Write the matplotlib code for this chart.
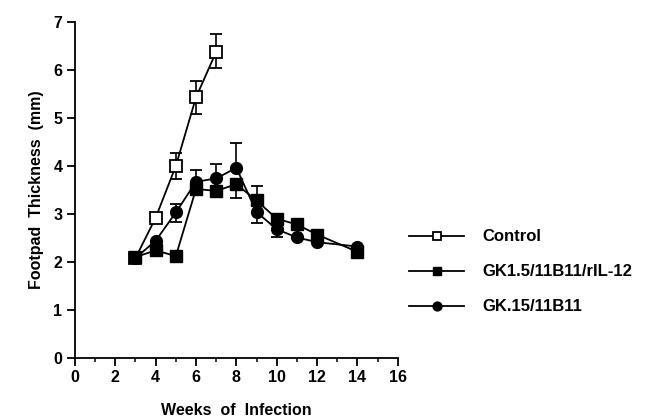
import numpy as np
import matplotlib
matplotlib.use("Agg")
import matplotlib.pyplot as plt

plt.rcParams['font.family'] = ['Liberation Sans', 'DejaVu Sans']
plt.rcParams['font.weight'] = 'bold'

# данные
weeks_ctrl = [3, 4, 5, 6, 7]
ctrl = [2.08, 2.92, 4.0, 5.43, 6.38]
ctrl_lo = [0, 0, 0.27, 0.35, 0.34]
ctrl_hi = [0, 0, 0.27, 0.34, 0.38]

weeks = [3, 4, 5, 6, 7, 8, 9, 10, 11, 12, 14]
gk_il12 = [2.1, 2.24, 2.12, 3.52, 3.48, 3.62, 3.28, 2.9, 2.78, 2.57, 2.21]
gk_il12_lo = [0, 0, 0, 0, 0, 0.28, 0, 0, 0, 0, 0]
gk_il12_hi = [0, 0, 0, 0, 0, 0, 0.3, 0, 0, 0, 0]

gk = [2.08, 2.44, 3.03, 3.67, 3.74, 3.96, 3.04, 2.68, 2.51, 2.41, 2.32]
gk_lo = [0, 0, 0.19, 0, 0, 0, 0.22, 0.17, 0, 0, 0]
gk_hi = [0, 0, 0.18, 0.25, 0.3, 0.52, 0, 0, 0, 0, 0]

labels = ['Control', 'GK1.5/11B11/rIL-12', 'GK.15/11B11']

fig = plt.figure(figsize=(6.52, 4.17), dpi=100)
ax = fig.add_axes([0.115, 0.142, 0.495, 0.805])

eb = dict(color='black', lw=1.3, capsize=4, capthick=1.3, elinewidth=1.2, zorder=3)
ax.errorbar(weeks_ctrl, ctrl, yerr=[ctrl_lo, ctrl_hi], marker='s', ms=8.5,
            mfc='white', mec='black', mew=1.3, label=labels[0], **eb)
ax.errorbar(weeks, gk_il12, yerr=[gk_il12_lo, gk_il12_hi], marker='s', ms=8.5,
            mfc='black', mec='black', label=labels[1], **eb)
ax.errorbar(weeks, gk, yerr=[gk_lo, gk_hi], marker='o', ms=8.5,
            mfc='black', mec='black', label=labels[2], **eb)

ax.set_xlim(0, 16)
ax.set_ylim(0, 7)
ax.set_xticks(np.arange(0, 17, 2))
ax.set_xticks(np.arange(0, 17, 1), minor=True)
ax.set_yticks(np.arange(0, 8, 1))
ax.spines['top'].set_visible(False)
ax.spines['right'].set_visible(False)
ax.spines['left'].set_linewidth(1.3)
ax.spines['bottom'].set_linewidth(1.3)
ax.tick_params(axis='both', direction='out', length=6, width=1.3, labelsize=11.5, pad=3)
ax.tick_params(axis='x', which='minor', direction='out', length=3, width=1.1)
for t in ax.get_xticklabels() + ax.get_yticklabels():
    t.set_fontweight('bold')

ax.set_xlabel('Weeks  of  Infection', fontsize=11.5, fontweight='bold', labelpad=13)
ax.set_ylabel('Footpad  Thickness  (mm)', fontsize=11.5, fontweight='bold', labelpad=7)

h, l = ax.get_legend_handles_labels()
h = [x[0] for x in h]
fig.legend(h, l, loc='center left', bbox_to_anchor=(0.605, 0.348), frameon=False,
           handlelength=3.3, handletextpad=1.1, labelspacing=1.2, markerscale=0.75,
           prop=dict(size=12, weight='bold'))

plt.savefig('out.png', dpi=100)
